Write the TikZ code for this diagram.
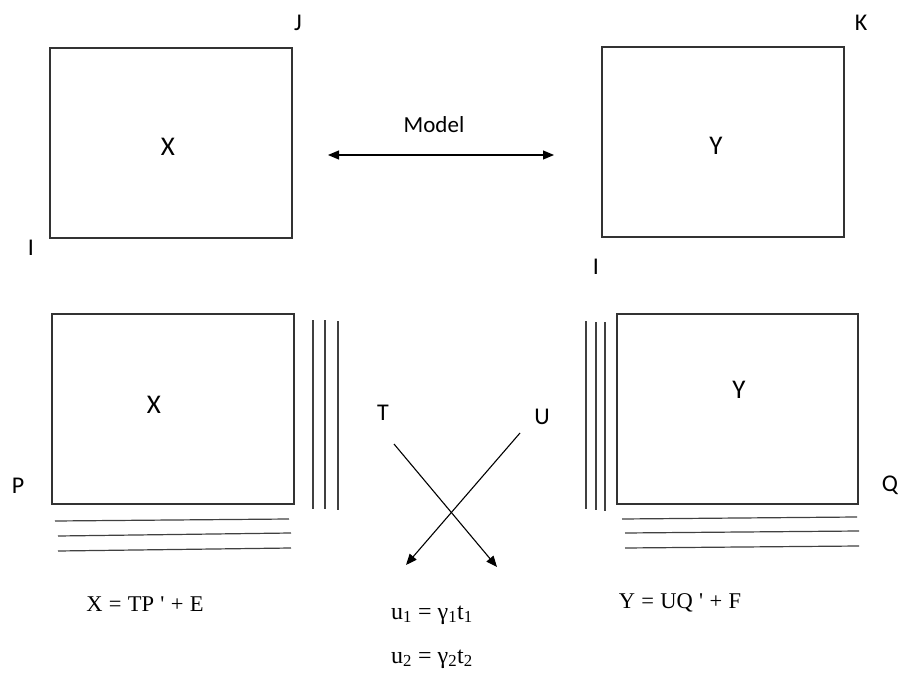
\documentclass[tikz,border=0pt]{standalone}
\usepackage{fontspec}
\setmainfont{Carlito}
\newfontfamily\tnr{Liberation Serif}[Ligatures=TeXOff]
\newcommand\eqfont{\tnr\fontsize{22.5}{24}\selectfont\spaceskip=0.28em\relax}
\usetikzlibrary{arrows.meta}
\begin{document}
\begin{tikzpicture}[x=1pt,y=-1pt,
  mat/.style={draw=black!80,line width=1.2pt,minimum width=242pt,minimum height=190pt,inner sep=0pt},
  lbl/.style={inner sep=0pt,font=\fontsize{24}{27}\selectfont},
  big/.style={inner sep=0pt,font=\fontsize{27}{30}\selectfont},
  eq/.style={inner sep=0pt,anchor=base,font=\eqfont},
  eqb/.style={inner sep=0pt,anchor=base,font=\tnr\fontsize{24}{26}\selectfont},
  rulel/.style={draw=black!75,line width=1.2pt},
  arr/.style={draw=black,line width=1.1pt,-{Triangle[length=11pt,width=9pt]}},
  darr/.style={draw=black,line width=1.1pt,{Triangle[length=11pt,width=9pt]}-{Triangle[length=11pt,width=9pt]}}]
\fill[white] (0,0) rectangle (898,674);
\useasboundingbox (0,0) rectangle (898,674);

% top matrices
\node[mat] (bx1) at (171,143) {};
\node[mat] (by1) at (723,142) {};
\node[big] (lx1) at (168,147) {X};
\node[big] (ly1) at (716,146) {Y};
\node[lbl] (j) at (298,23) {J};
\node[lbl] (i1) at (31,248) {I};
\node[lbl] (k) at (861,23) {K};
\node[lbl] (i2) at (596,267) {I};

% model arrow
\node[lbl,anchor=base,font=\fontsize{23}{26}\selectfont] (model) at (434,133) {Model};
\coordinate (mL) at (328,155);
\coordinate (mR) at (554,155);
\draw[darr] (mL) -- (mR);

% bottom matrices
\node[mat] (bx2) at (173,409) {};
\node[mat,minimum width=241pt] (by2) at (737.5,409) {};
\node[big] (lx2) at (154,405) {X};
\node[big] (ly2) at (739,390) {Y};
\node[lbl] (p) at (18,486) {P};
\node[lbl] (q) at (890,485) {Q};

% loading lines (X side)
\draw[rulel] (313,320) -- (313,509);
\draw[rulel] (325,320) -- (325,509);
\draw[rulel] (338,321) -- (338,510);
\draw[rulel] (55,521) -- (289,519);
\draw[rulel] (58,536) -- (291,533);
\draw[rulel] (58,551) -- (291,548);

% loading lines (Y side)
\draw[rulel] (586,321) -- (586,509);
\draw[rulel] (596,322) -- (596,510);
\draw[rulel] (605,322) -- (605,511);
\draw[rulel] (622,519) -- (857,517);
\draw[rulel] (625,533) -- (859,531);
\draw[rulel] (625,548) -- (859,546);

% crossing arrows
\node[lbl] (t) at (383,413) {T};
\node[lbl] (u) at (542,417) {U};
\coordinate (tS) at (394,444);
\coordinate (tE) at (497,567);
\coordinate (uS) at (520,433);
\coordinate (uE) at (406,565);
\draw[arr] (tS) -- (tE);
\draw[arr] (uS) -- (uE);

% equations
\node[eq] (ex) at (145,611) {X = TP ' + E};
\node[eq] (ey) at (680,608) {Y = UQ ' + F};
\node[eqb] (e1) at (432,619) {u\textsubscript{1} = γ\textsubscript{1}t\textsubscript{1}};
\node[eqb] (e2) at (432,663) {u\textsubscript{2} = γ\textsubscript{2}t\textsubscript{2}};
\end{tikzpicture}
\end{document}
